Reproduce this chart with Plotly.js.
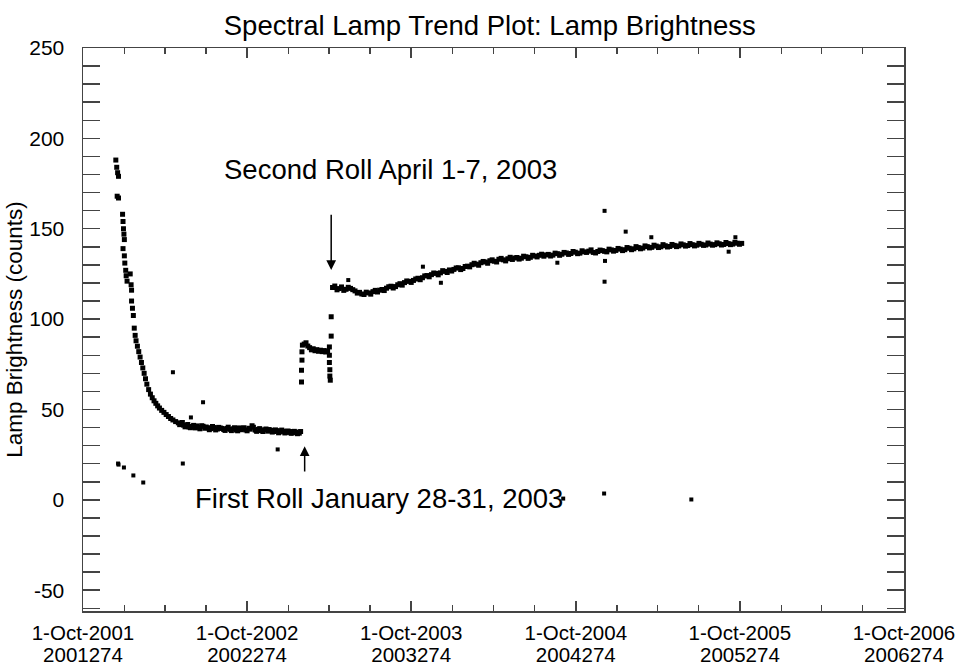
<!DOCTYPE html>
<html>
<head>
<meta charset="utf-8">
<script src="https://cdn.plot.ly/plotly-3.0.1.min.js"></script>
<style>html,body{margin:0;padding:0;background:#fff;}#chart{width:966px;height:670px;}</style>
</head>
<body>
<div id="chart"></div>
<script>
// ---- Data: decay after launch (Dec 2001 - Jan 2003) ----
const decayDates = [
"2001-12-13","2001-12-15","2001-12-17","2001-12-19","2001-12-16","2001-12-19",
"2001-12-28","2001-12-29","2001-12-30","2001-12-31","2002-01-01","2001-12-29",
"2002-01-01","2002-01-02","2002-01-04","2002-01-05","2002-01-07","2002-01-14",
"2002-01-16","2002-01-17","2002-01-17","2002-01-19","2002-01-21","2002-01-23",
"2002-01-25","2002-01-27","2002-01-30","2002-02-02","2002-02-05","2002-02-08",
"2002-02-11","2002-02-14","2002-02-17","2002-02-20","2002-02-24","2002-02-28",
"2002-03-04","2002-03-08","2002-03-12","2002-03-16","2002-03-20","2002-03-25",
"2002-03-30","2002-04-04","2002-04-09","2002-04-14","2002-04-19","2002-04-25",
"2002-05-01","2002-05-07","2002-05-13","2002-05-19","2002-05-25","2002-06-01",
"2002-06-08","2002-06-15","2002-06-22","2002-06-29","2002-07-06","2002-07-13",
"2002-07-20","2002-07-27","2002-08-03","2002-08-10","2002-08-17","2002-08-24",
"2002-08-31","2002-09-07","2002-09-14","2002-09-21","2002-09-28","2002-10-05",
"2002-10-12","2002-10-19","2002-10-26","2002-11-02","2002-11-09","2002-11-16",
"2002-11-23","2002-11-30","2002-12-07","2002-12-14","2002-12-21","2002-12-28",
"2003-01-04","2003-01-11","2003-01-18","2003-01-25","2003-01-28"];
const decayValues = [
188,184,181,179,168,167,
158,154,150,147,144,139,
135,131,127,124,121,125,
119,116,110,106,102,95,
91,88,85,82,79,76,
73,70,67,64,61,58.5,
56.5,54.8,53.4,52,50.8,49.5,
48.4,47.2,46.1,45,44.2,43.3,
42.6,42,41.3,41,40.3,40.6,
39.8,40.2,41.0,39.6,39.9,39.4,
40.0,39.2,39.7,38.9,39.5,39.0,
39.3,38.6,39.8,39.1,38.7,39.6,
41.0,38.6,39.0,38.3,38.8,38.0,
38.5,37.8,38.3,37.6,38.0,37.3,
37.8,37.1,37.5,36.9,37.8];
// interleaved scatter of the flat part
const decayExtraDates = [
"2002-05-04","2002-05-10","2002-05-16","2002-05-22","2002-05-28","2002-06-04",
"2002-06-11","2002-06-18","2002-06-25","2002-07-02","2002-07-09","2002-07-16",
"2002-07-23","2002-07-30","2002-08-06","2002-08-13","2002-08-20","2002-08-27",
"2002-09-03","2002-09-10","2002-09-17","2002-09-24","2002-10-01","2002-10-08",
"2002-10-15","2002-10-22","2002-10-29","2002-11-05","2002-11-12","2002-11-19",
"2002-11-26","2002-12-03","2002-12-10","2002-12-17","2002-12-24","2002-12-31",
"2003-01-07","2003-01-14","2003-01-21"];
const decayExtraValues = [
41.6,42.8,40.4,41.7,39.9,41.2,
40.9,39.3,40.7,40.3,38.8,40.6,
38.7,40.1,39.5,38.4,40.2,38.3,
39.9,38.2,38.8,39.9,38.2,39.1,
40.2,37.9,39.4,37.8,39.2,38.9,
37.5,38.7,37.1,38.6,37.0,38.1,
36.8,37.9,36.6];

// ---- Data: between the two rolls (Feb - Apr 2003) ----
const midDates = [
"2003-01-30","2003-01-30","2003-01-31","2003-01-31","2003-02-01","2003-02-05",
"2003-02-09","2003-02-13","2003-02-17","2003-02-21","2003-02-25","2003-03-01",
"2003-03-05","2003-03-09","2003-03-13","2003-03-17","2003-03-21","2003-03-25",
"2003-03-29","2003-04-02","2003-04-02","2003-04-02","2003-04-03","2003-04-03",
"2003-04-04","2003-04-06","2003-04-06"];
const midValues = [
65.2,71.7,77.3,81.9,85.6,86.2,
86.9,85.1,84.2,83.0,83.6,82.5,
83.1,82.2,82.8,82.0,82.6,81.8,
82.4,84.6,80.0,76.0,72.0,68.5,
66.2,90.6,101.3];

// ---- Data: after the second roll (Apr 2003 - Oct 2005) ----
const lateDates = [
"2003-04-09","2003-04-19","2003-04-29","2003-05-09","2003-05-19","2003-05-29",
"2003-06-08","2003-06-18","2003-06-28","2003-07-08","2003-07-18","2003-07-28",
"2003-08-07","2003-08-17","2003-08-27","2003-09-06","2003-09-16","2003-09-26",
"2003-10-06","2003-10-16","2003-10-26","2003-11-05","2003-11-15","2003-11-25",
"2003-12-05","2003-12-15","2003-12-25","2004-01-04","2004-01-14","2004-01-24",
"2004-02-03","2004-02-13","2004-02-23","2004-03-04","2004-03-14","2004-03-24",
"2004-04-03","2004-04-13","2004-04-23","2004-05-03","2004-05-13","2004-05-23",
"2004-06-02","2004-06-12","2004-06-22","2004-07-02","2004-07-12","2004-07-22",
"2004-08-01","2004-08-11","2004-08-21","2004-08-31","2004-09-10","2004-09-20",
"2004-09-30","2004-10-10","2004-10-20","2004-10-30","2004-11-09","2004-11-19",
"2004-11-29","2004-12-09","2004-12-19","2004-12-29","2005-01-08","2005-01-18",
"2005-01-28","2005-02-07","2005-02-17","2005-02-27","2005-03-09","2005-03-19",
"2005-03-29","2005-04-08","2005-04-18","2005-04-28","2005-05-08","2005-05-18",
"2005-05-28","2005-06-07","2005-06-17","2005-06-27","2005-07-07","2005-07-17",
"2005-07-27","2005-08-06","2005-08-16","2005-08-26","2005-09-05","2005-09-15",
"2005-09-25","2005-10-05"];
const lateValues = [
117.5,116.2,117.8,116.5,117.0,115.6,
114.8,113.6,114.5,115.2,115.0,116.4,
117.1,118.2,118.0,119.6,120.2,120.9,
121.4,122.6,122.9,124.1,124.6,125.3,
125.6,126.4,127.2,127.5,128.4,128.0,
129.3,130.1,130.4,131.2,131.6,132.3,
132.0,133.1,132.8,133.4,133.0,134.1,
133.7,134.5,134.2,134.9,135.3,134.8,
135.8,135.4,136.2,135.9,136.6,136.3,
137.0,136.5,137.2,137.6,136.9,137.4,
137.9,137.2,138.3,138.0,138.7,138.4,
139.2,138.9,139.6,139.3,140.1,139.7,
140.4,140.0,140.6,140.2,140.8,140.5,
141.1,140.7,141.2,140.9,141.4,141.0,
141.5,141.2,141.7,141.3,141.8,141.5,
142.0,141.9];
// interleaved scatter of the late band
const lateExtraDates = [
"2003-04-14","2003-04-24","2003-05-04","2003-05-14","2003-05-24","2003-06-03",
"2003-06-13","2003-06-23","2003-07-03","2003-07-13","2003-07-23","2003-08-02",
"2003-08-12","2003-08-22","2003-09-01","2003-09-11","2003-09-21","2003-10-01",
"2003-10-11","2003-10-21","2003-10-31","2003-11-10","2003-11-20","2003-11-30",
"2003-12-10","2003-12-20","2003-12-30","2004-01-09","2004-01-19","2004-01-29",
"2004-02-08","2004-02-18","2004-02-28","2004-03-09","2004-03-19","2004-03-29",
"2004-04-08","2004-04-18","2004-04-28","2004-05-08","2004-05-18","2004-05-28",
"2004-06-07","2004-06-17","2004-06-27","2004-07-07","2004-07-17","2004-07-27",
"2004-08-06","2004-08-16","2004-08-26","2004-09-05","2004-09-15","2004-09-25",
"2004-10-05","2004-10-15","2004-10-25","2004-11-04","2004-11-14","2004-11-24",
"2004-12-04","2004-12-14","2004-12-24","2005-01-03","2005-01-13","2005-01-23",
"2005-02-02","2005-02-12","2005-02-22","2005-03-04","2005-03-14","2005-03-24",
"2005-04-03","2005-04-13","2005-04-23","2005-05-03","2005-05-13","2005-05-23",
"2005-06-02","2005-06-12","2005-06-22","2005-07-02","2005-07-12","2005-07-22",
"2005-08-01","2005-08-11","2005-08-21","2005-08-31","2005-09-10","2005-09-20",
"2005-09-30"];
const lateExtraValues = [
118.3,116.9,115.9,117.6,116.3,114.4,
113.9,114.9,113.8,115.9,116.0,115.8,
117.9,117.2,119.0,118.8,121.1,120.3,
122.2,121.8,123.9,123.4,125.5,124.5,
126.8,125.8,126.6,128.3,127.4,129.1,
128.9,130.9,129.8,131.9,130.9,132.8,
131.6,133.6,132.2,134.2,133.8,133.2,
134.8,133.6,135.3,134.4,135.9,135.5,
134.9,136.5,135.3,136.9,135.8,137.4,
136.2,137.8,136.9,138.3,136.6,138.2,
137.5,138.7,137.6,139.1,137.9,139.6,
138.4,140.1,138.9,140.5,139.4,140.9,
139.6,141.2,139.9,141.3,140.1,141.6,
140.4,141.8,140.5,141.9,140.8,142.1,
140.9,142.2,141.0,142.4,141.2,142.5,
141.4];

// ---- Data: isolated outlier measurements ----
const outlierDates = [
"2001-12-18","2001-12-19","2001-12-31","2002-01-21","2002-02-12","2002-05-11",
"2002-04-19","2002-06-25","2002-05-29","2002-12-08","2003-05-14","2003-10-27",
"2003-12-06","2004-08-21","2004-12-04","2004-12-04","2004-12-05","2005-01-20",
"2005-03-18","2005-09-06","2005-09-21","2004-12-03","2005-06-15","2004-09-03"];
const outlierValues = [
20.1,19.5,17.9,13.5,9.6,20.1,
70.6,54,45.6,27.9,121.6,129,
120.1,131.2,159.9,120.7,132.2,148.4,
145.3,137.3,145.3,3.5,0.2,0.7];

// ---- Axis ticks ----
const tickDates = ["2001-10-01","2002-10-01","2003-10-01","2004-10-01","2005-10-01","2006-10-01"];
const tickDateLabels = ["1-Oct-2001","1-Oct-2002","1-Oct-2003","1-Oct-2004","1-Oct-2005","1-Oct-2006"];
const tickDayLabels = ["2001274","2002274","2003274","2004274","2005274","2006274"];
const yTickValues = [-50, 0, 50, 100, 150, 200, 250];
const yTickLabels = ["-50", "0", "50", "100", "150", "200", "250"];

const FONT = "Liberation Sans, Arial, Helvetica, sans-serif";
const mk = {symbol:"square", color:"#000", size:5, line:{width:0}};

const traces = [
  {x:decayDates.concat(decayExtraDates), y:decayValues.concat(decayExtraValues), type:"scatter", mode:"markers", marker:mk, hoverinfo:"skip"},
  {x:midDates, y:midValues, type:"scatter", mode:"markers", marker:mk, hoverinfo:"skip"},
  {x:lateDates.concat(lateExtraDates), y:lateValues.concat(lateExtraValues), type:"scatter", mode:"markers", marker:mk, hoverinfo:"skip"},
  {x:outlierDates, y:outlierValues, type:"scatter", mode:"markers", marker:Object.assign({}, mk, {size:4}), hoverinfo:"skip"},
  // carrier for the second (day-of-year) row of x tick labels
  {x:tickDates, y:tickDates.map(()=>null), xaxis:"x2", type:"scatter", mode:"markers", hoverinfo:"skip"}
];

const axisCommon = {
  showline:true, linecolor:"#444", linewidth:1.5, mirror:"allticks",
  showgrid:false, zeroline:false, tickwidth:1.5, tickcolor:"#444"
};

const layout = {
  width:966, height:670,
  paper_bgcolor:"#fff", plot_bgcolor:"#fff",
  showlegend:false,
  margin:{l:83, r:62, t:48, b:59},
  font:{family:FONT, color:"#000"},
  title:{text:"Spectral Lamp Trend Plot: Lamp Brightness", font:{size:27.5, family:FONT, color:"#000"}, x:0.507, xanchor:"center", y:0.962, yanchor:"middle"},
  xaxis:Object.assign({}, axisCommon, {
    type:"date",
    range:["2001-10-01","2006-10-01"],
    tickmode:"array",
    tickvals:tickDates,
    ticktext:tickDateLabels,
    ticks:"inside", ticklen:10,
    minor:{tickmode:"linear", tick0:"2001-10-01", dtick:"M3", ticks:"inside", ticklen:6, tickwidth:1.5, tickcolor:"#444", showgrid:false},
    tickfont:{size:20.5, family:FONT, color:"#000"},
    ticklabelstandoff:3
  }),
  xaxis2:{
    type:"date", overlaying:"x", anchor:"y", side:"bottom",
    range:["2001-10-01","2006-10-01"],
    tickmode:"array", tickvals:tickDates, ticktext:tickDayLabels,
    ticks:"", showline:false, showgrid:false, zeroline:false,
    tickfont:{size:20.5, family:FONT, color:"#000"},
    ticklabelstandoff:29
  },
  yaxis:Object.assign({}, axisCommon, {
    range:[-61.5, 250],
    tickmode:"array", tickvals:yTickValues, ticktext:yTickLabels,
    ticks:"inside", ticklen:17,
    minor:{tickmode:"linear", tick0:0, dtick:10, ticks:"inside", ticklen:8, tickwidth:1.5, tickcolor:"#444", showgrid:false},
    tickfont:{size:21, family:FONT, color:"#000"},
    ticklabelstandoff:13,
    title:{text:"Lamp Brightness (counts)", font:{size:22.5, family:FONT, color:"#000"}, standoff:0}
  }),
  annotations:[
    {x:"2003-08-15", y:182.6, xref:"x", yref:"y", text:"Second Roll April 1-7, 2003", showarrow:false, font:{size:27.5, family:FONT, color:"#000"}},
    {x:"2003-07-22", y:0.5, xref:"x", yref:"y", text:"First Roll January 28-31, 2003", showarrow:false, font:{size:27.5, family:FONT, color:"#000"}},
    {x:"2003-04-06", y:127.2, ax:"2003-04-06", ay:158.6, xref:"x", yref:"y", axref:"x", ayref:"y", text:"", showarrow:true, arrowhead:2, arrowsize:1.3, arrowwidth:1.5, arrowcolor:"#000"},
    {x:"2003-02-06", y:29.6, ax:"2003-02-06", ay:14.8, xref:"x", yref:"y", axref:"x", ayref:"y", text:"", showarrow:true, arrowhead:2, arrowsize:1.3, arrowwidth:1.5, arrowcolor:"#000"}
  ]
};

Plotly.newPlot("chart", traces, layout, {staticPlot:true, displayModeBar:false});
</script>
</body>
</html>
